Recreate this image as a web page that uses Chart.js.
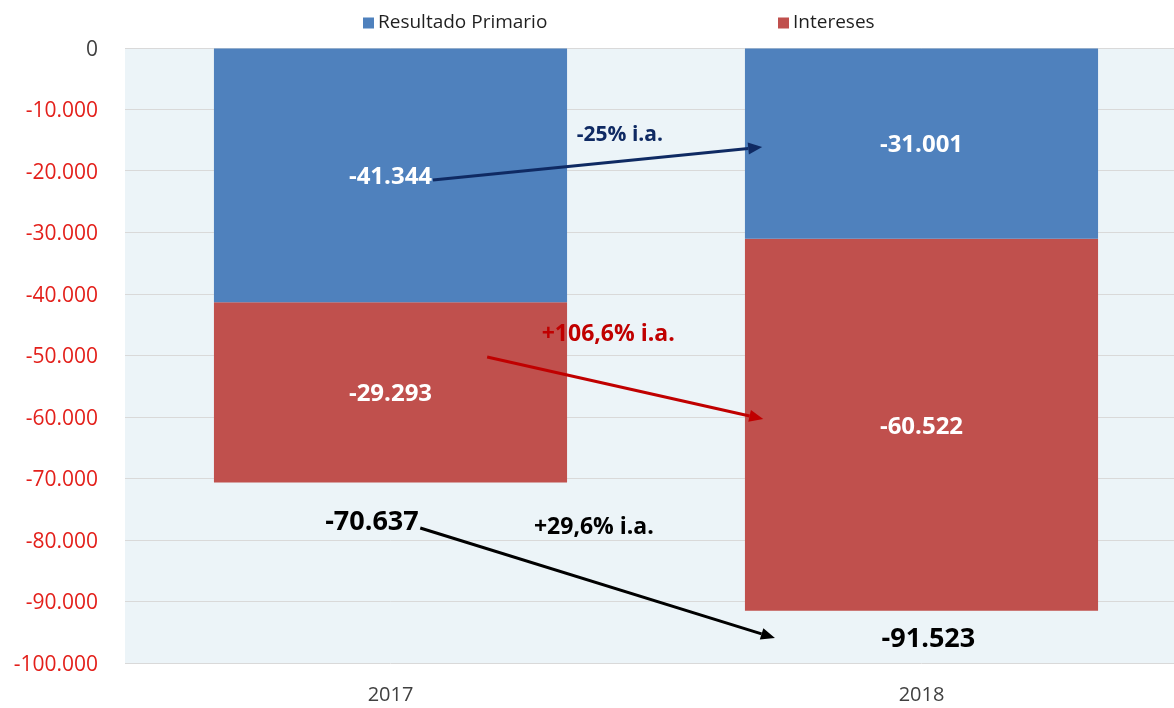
<!DOCTYPE html>
<html><head><meta charset="utf-8">
<script src="https://cdn.jsdelivr.net/npm/chart.js@4.4.1/dist/chart.umd.min.js"></script>
<style>
html,body{margin:0;padding:0;overflow:hidden;background:#fff;width:1174px;height:708px}
#wrap{position:relative;width:1187px;height:708px}
</style>
</head><body><div id="wrap"><canvas id="c"></canvas></div>
<script>
// ---- data ----
const categories = ['2017', '2018'];
const seriesNames = ['Resultado Primario', 'Intereses'];
const resultadoPrimario = [-41344, -31001];
const intereses = [-29293, -60522];
const totals = [-70637, -91523];
const yTickValues = [0, -10000, -20000, -30000, -40000, -50000, -60000, -70000, -80000, -90000, -100000];
const changeLabels = ['-25% i.a.', '+106,6% i.a.', '+29,6% i.a.'];

// ---- annotation placement (data space: x = category index + offset, y = value) ----
const arrowPos = [
  {from: [0.08, -21460], to: [0.70, -16100], color: '#0F2A63'},
  {from: [0.182, -50240], to: [0.702, -60330], color: '#C00000'},
  {from: [0.056, -78050], to: [0.724, -95940], color: '#000000'}
];
const changePos = [
  {at: [0.432, -14150], color: '#0F2A63', size: 21},
  {at: [0.41, -46500], color: '#C00000', size: 23},
  {at: [0.383, -77890], color: '#000000', size: 23}
];
const totalPos = [[-0.035, -77070], [1.013, -96100]];

const colors = ['#4F81BD', '#C0504D'];

function fmt(v) {
  const s = Math.abs(Math.round(v)).toString().replace(/\B(?=(\d{3})+(?!\d))/g, '.');
  return (v < 0 ? '-' : '') + s;
}

const FONT = '"Open Sans", "Noto Sans", sans-serif';

const bgPlugin = {
  id: 'bg',
  beforeDraw(chart) {
    const {ctx, chartArea: a} = chart;
    ctx.save();
    ctx.fillStyle = '#ECF4F8';
    ctx.fillRect(a.left, a.top, a.right - a.left, a.bottom - a.top);
    ctx.restore();
  }
};

function px(chart, p) {
  const xs = chart.scales.x, ys = chart.scales.y;
  const c0 = xs.getPixelForValue(0), c1 = xs.getPixelForValue(1);
  const w = c1 - c0;
  return [c0 + p[0] * w, ys.getPixelForValue(p[1])];
}

const annPlugin = {
  id: 'ann',
  afterDatasetsDraw(chart) {
    const ctx = chart.ctx;
    ctx.save();
    // segment labels
    ctx.textAlign = 'center';
    ctx.textBaseline = 'middle';
    ctx.fillStyle = '#FFFFFF';
    ctx.font = 'bold 24px ' + FONT;
    chart.data.datasets.forEach((ds, di) => {
      const meta = chart.getDatasetMeta(di);
      meta.data.forEach((el, i) => {
        ctx.fillText(fmt(ds.data[i]), el.x, (el.y + el.base) / 2 + 2);
      });
    });
    // totals
    ctx.fillStyle = '#000000';
    ctx.font = 'bold 27px ' + FONT;
    totals.forEach((t, i) => {
      const [x, y] = px(chart, totalPos[i]);
      ctx.fillText(fmt(t), x, y);
    });
    // arrows
    arrowPos.forEach(a => {
      const [x1, y1] = px(chart, a.from);
      const [x2, y2] = px(chart, a.to);
      const ang = Math.atan2(y2 - y1, x2 - x1);
      const hl = 14, hw = 6;
      const bx = x2 - hl * Math.cos(ang), by = y2 - hl * Math.sin(ang);
      ctx.strokeStyle = a.color;
      ctx.fillStyle = a.color;
      ctx.lineWidth = 3;
      ctx.beginPath();
      ctx.moveTo(x1, y1);
      ctx.lineTo(bx, by);
      ctx.stroke();
      ctx.beginPath();
      ctx.moveTo(x2, y2);
      ctx.lineTo(bx + hw * Math.sin(ang), by - hw * Math.cos(ang));
      ctx.lineTo(bx - hw * Math.sin(ang), by + hw * Math.cos(ang));
      ctx.closePath();
      ctx.fill();
    });
    // change labels
    changeLabels.forEach((t, i) => {
      const c = changePos[i];
      const [x, y] = px(chart, c.at);
      ctx.fillStyle = c.color;
      ctx.font = 'bold ' + c.size + 'px ' + FONT;
      ctx.fillText(t, x, y);
    });
    ctx.restore();
  }
};

const legendPlugin = {
  id: 'customLegend',
  afterDraw(chart) {
    const ctx = chart.ctx;
    const xs = [363, 778];
    const yc = 23;
    ctx.save();
    ctx.font = '19px ' + FONT;
    ctx.textBaseline = 'middle';
    ctx.textAlign = 'left';
    chart.data.datasets.forEach((ds, i) => {
      ctx.fillStyle = ds.backgroundColor;
      ctx.fillRect(xs[i], yc - 5.5, 11, 11);
      ctx.fillStyle = '#1F1F1F';
      ctx.fillText(ds.label, xs[i] + 15, yc);
    });
    ctx.restore();
  }
};

new Chart(document.getElementById('c'), {
  type: 'bar',
  data: {
    labels: categories,
    datasets: [
      {label: seriesNames[0], data: resultadoPrimario, backgroundColor: colors[0], barPercentage: 0.665, categoryPercentage: 1},
      {label: seriesNames[1], data: intereses, backgroundColor: colors[1], barPercentage: 0.665, categoryPercentage: 1}
    ]
  },
  options: {
    responsive: true,
    maintainAspectRatio: false,
    animation: false,
    layout: {padding: {top: 48, left: 0, right: 0, bottom: 0}},
    plugins: {legend: {display: false}, tooltip: {enabled: false}},
    scales: {
      x: {
        stacked: true,
        grid: {display: false},
        border: {display: false},
        ticks: {color: '#404040', font: {family: FONT, size: 20}, padding: 12},
        afterFit(s) { s.height = 45; }
      },
      y: {
        stacked: true,
        min: -100000,
        max: 0,
        afterBuildTicks(s) { s.ticks = yTickValues.map(v => ({value: v})); },
        grid: {color: '#D9D9D9', lineWidth: 1, drawTicks: false},
        border: {display: false},
        ticks: {
          callback: v => fmt(v),
          color: ctx => (ctx.tick && ctx.tick.value < 0 ? '#E3201B' : '#404040'),
          font: {family: FONT, size: 21},
          padding: 27,
          labelOffset: 2
        },
        afterFit(s) { s.width = 125; }
      }
    }
  },
  plugins: [bgPlugin, annPlugin, legendPlugin]
});
</script>
</body></html>
